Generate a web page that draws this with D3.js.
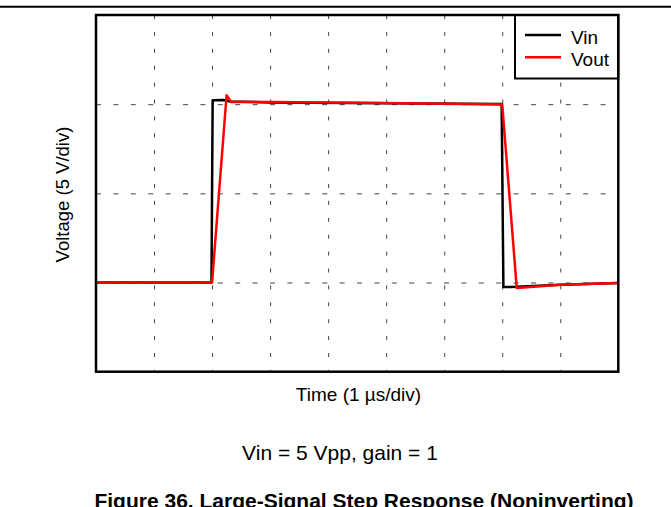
<!DOCTYPE html>
<html>
<head>
<meta charset="utf-8">
<script src="https://cdn.jsdelivr.net/npm/d3@7"></script>
<style>
  html, body { margin: 0; padding: 0; background: #fff; }
  svg { display: block; font-family: "Liberation Sans", Arial, Helvetica, sans-serif; }
</style>
</head>
<body>
<svg id="chart" width="671" height="507"></svg>
<script>
// ---- data (time in µs, voltage in V) ----
const vinTime  = [0, 1.99, 2.01, 2.19, 2.31, 3.0, 5.0, 6.99, 7.02, 7.13, 7.25, 8.0, 9.0];
const vinVolt  = [-5.0, -5.0, 5.22, 5.23, 5.15, 5.10, 5.05, 5.01, -5.25, -5.25, -5.24, -5.12, -5.03];
const voutTime = [0, 2.0, 2.25, 2.33, 3.0, 5.0, 7.0, 7.25, 8.0, 9.0];
const voutVolt = [-5.0, -5.0, 5.50, 5.12, 5.12, 5.06, 4.98, -5.31, -5.12, -5.03];
const seriesNames = ["Vin", "Vout"];
const seriesColors = ["#000000", "#ff0000"];
const xGridTicks = [1, 2, 3, 4, 5, 6, 7, 8];
const yGridTicks = [-5, 0, 5];
const xTitle = "Time (1 \u00b5s/div)";
const yTitle = "Voltage (5 V/div)";
const subTitle = "Vin = 5 Vpp, gain = 1";
const caption = "Figure 36. Large-Signal Step Response (Noninverting)";

const svg = d3.select("#chart");
const L = 96, R = 618.3, T = 15, B = 371.7;
const x = d3.scaleLinear().domain([0, 9]).range([L, R]);
const y = d3.scaleLinear().domain([-10, 10]).range([B, T]);

// top rule
svg.append("line").attr("x1", 0).attr("x2", 671).attr("y1", 6.7).attr("y2", 6.7)
  .attr("stroke", "#000").attr("stroke-width", 2);

// grid via axes
const gx = svg.append("g").attr("transform", `translate(0,${T})`)
  .call(d3.axisBottom(x).tickValues(xGridTicks).tickSize(B - T).tickFormat(""));
gx.select(".domain").remove();
gx.selectAll(".tick line").attr("stroke", "#444").attr("stroke-width", 1)
  .attr("stroke-dasharray", "4,12.9");

const gy = svg.append("g").attr("transform", `translate(${L},0)`)
  .call(d3.axisRight(y).tickValues(yGridTicks).tickSize(R - L).tickFormat(""));
gy.select(".domain").remove();
gy.selectAll(".tick line").attr("stroke", "#444").attr("stroke-width", 1)
  .attr("stroke-dasharray", "5,12.4").attr("stroke-dashoffset", 0);

// lines
const line = d3.line().x(d => x(d[0])).y(d => y(d[1]));
const vin = vinTime.map((t, i) => [t, vinVolt[i]]);
const vout = voutTime.map((t, i) => [t, voutVolt[i]]);
[vin, vout].forEach((data, i) => {
  svg.append("path").datum(data).attr("d", line)
    .attr("fill", "none").attr("stroke", seriesColors[i]).attr("stroke-width", 2.5)
    .attr("stroke-linejoin", "round");
});

// legend
const lg = svg.append("g");
lg.append("rect").attr("x", 515).attr("y", T).attr("width", R - 515).attr("height", 63.5)
  .attr("fill", "#fff").attr("stroke", "#000").attr("stroke-width", 2);
seriesNames.forEach((name, i) => {
  const yy = 35 + i * 22.3;
  lg.append("line").attr("x1", 525).attr("x2", 561).attr("y1", yy).attr("y2", yy)
    .attr("stroke", seriesColors[i]).attr("stroke-width", 2.5);
  lg.append("text").attr("x", 571).attr("y", yy + 8.5).attr("font-size", 19).text(name);
});

// frame
svg.append("rect").attr("x", L).attr("y", T).attr("width", R - L).attr("height", B - T)
  .attr("fill", "none").attr("stroke", "#000").attr("stroke-width", 2.5);

// texts
svg.append("text").attr("x", 358.5).attr("y", 401).attr("text-anchor", "middle")
  .attr("font-size", 19).text(xTitle);
svg.append("text").attr("transform", "translate(69,194.5) rotate(-90)")
  .attr("text-anchor", "middle").attr("font-size", 18.5).text(yTitle);
svg.append("text").attr("x", 340).attr("y", 460).attr("text-anchor", "middle")
  .attr("font-size", 21).text(subTitle);
svg.append("text").attr("x", 364).attr("y", 508.3).attr("text-anchor", "middle")
  .attr("font-size", 21).attr("font-weight", "bold").text(caption);
</script>
</body>
</html>
